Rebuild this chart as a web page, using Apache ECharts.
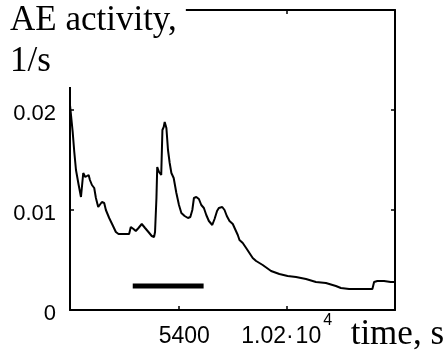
<!DOCTYPE html>
<html>
<head>
<meta charset="utf-8">
<script src="https://cdn.jsdelivr.net/npm/echarts@6/dist/echarts.min.js"></script>
<style>
  html, body { margin: 0; padding: 0; background: #fff; }
  #chart { width: 447px; height: 357px; }
</style>
</head>
<body>
<div id="chart"></div>
<script>
// time, s
const timeS = [
  600, 719, 790, 865, 984, 1086, 1130, 1187, 1276, 1338,
  1426, 1483, 1572, 1673, 1748, 1850, 1938, 2013, 2115, 2190,
  2336, 2486, 2632, 2751, 2928, 3219, 3294, 3414, 3515, 3635,
  3780, 3926, 4076, 4222, 4324, 4368, 4430, 4465, 4545, 4642,
  4695, 4752, 4796, 4871, 4942, 5017, 5092, 5194, 5313, 5428,
  5534, 5680, 5826, 5931, 6020, 6091, 6197, 6311, 6417, 6532,
  6638, 6753, 6903, 7005, 7115, 7195, 7345, 7447, 7548, 7667,
  7813, 7933, 8034, 8109, 8255, 8405, 8696, 8847, 9138, 9509,
  9876, 10243, 10614, 11056, 11497, 11939, 12381, 12602, 12968, 13410,
  13998, 14074, 14218, 14514, 14810, 15000
]
// AE activity, 1/s
const activity = [
  0.0205, 0.0178, 0.0158, 0.0140, 0.0125, 0.0113, 0.0115, 0.0137, 0.0133, 0.0132,
  0.0135, 0.0130, 0.0125, 0.0122, 0.0112, 0.0103, 0.0102, 0.0108, 0.0107, 0.0100,
  0.0092, 0.0085, 0.0078, 0.0076, 0.0076, 0.0076, 0.0083, 0.0081, 0.0079, 0.0082,
  0.0086, 0.0082, 0.0078, 0.0074, 0.0073, 0.0078, 0.0112, 0.0143, 0.0138, 0.0135,
  0.0180, 0.0183, 0.0188, 0.0182, 0.0160, 0.0147, 0.0137, 0.0132, 0.0117, 0.0105,
  0.0097, 0.0094, 0.0092, 0.0093, 0.0100, 0.0112, 0.0113, 0.0111, 0.0105, 0.0102,
  0.0095, 0.0089, 0.0085, 0.0091, 0.0099, 0.0102, 0.0103, 0.0100, 0.0094, 0.0089,
  0.0086, 0.0080, 0.0075, 0.0070, 0.0067, 0.0062, 0.0052, 0.0049, 0.0045, 0.0039,
  0.0036, 0.0034, 0.0033, 0.0031, 0.0028, 0.0027, 0.0024, 0.0022, 0.0021, 0.0021,
  0.0021, 0.0028, 0.0029, 0.0029, 0.0028, 0.0028
]

// horizontal bar marking the interval
const barTimes = [3380, 6520]
const barLevel = 0.0024

// axes
const timeMin = 600
const timeMax = 15000
const timeTicks = [5400, 10200]
const activityMin = 0
const activityMax = 0.03
const activityTicks = [0.01, 0.02]
const activityLabels = [0, 0.01, 0.02]

const chart = echarts.init(document.getElementById('chart'))

const ink = '#000'
const sans = 'Liberation Sans'
const serif = 'Liberation Serif'

const axisLine = { show: true, onZero: false, lineStyle: { color: ink, width: 2 } }
const tick = (values) => ({
  show: true,
  inside: true,
  length: 4,
  customValues: values,
  lineStyle: { color: ink, width: 1.5 },
})

function timeLabel(v) {
  if (v === 10200) return '{b|1.02·\u200a10}{sup|4}'
  return '{first|' + v + '}'
}

const option = {
  animation: false,
  backgroundColor: '#fff',
  title: {
    text: 'AE activity,\n1/s',
    left: 0,
    top: 0,
    backgroundColor: '#fff',
    padding: [0, 9, 5, 10],
    textStyle: {
      fontFamily: serif,
      fontSize: 35,
      fontWeight: 'normal',
      lineHeight: 41,
      color: ink,
    },
  },
  grid: { left: 70, right: 51, top: 10, bottom: 47 },
  xAxis: [
    {
      type: 'value',
      position: 'bottom',
      min: timeMin,
      max: timeMax,
      axisLine,
      axisTick: tick(timeTicks),
      splitLine: { show: false },
      axisLabel: {
        customValues: timeTicks,
        margin: 9,
        formatter: timeLabel,
        rich: {
          first: { fontFamily: sans, fontSize: 23, lineHeight: 23, color: ink, padding: [13, 0, 0, 12] },
          b: { fontFamily: sans, fontSize: 23, lineHeight: 23, color: ink, padding: [13, 0, 0, 0] },
          sup: { fontFamily: sans, fontSize: 16, lineHeight: 16, color: ink, padding: [0, 0, 20, 2] },
        },
      },
      name: 'time, s',
      nameLocation: 'end',
      nameGap: 49,
      nameTextStyle: {
        fontFamily: serif,
        fontSize: 35,
        color: ink,
        align: 'right',
        verticalAlign: 'top',
        lineHeight: 35,
        padding: [7, 0, 0, 0],
      },
    },
    {
      type: 'value',
      position: 'top',
      min: timeMin,
      max: timeMax,
      axisLine,
      axisTick: tick(timeTicks),
      axisLabel: { show: false },
      splitLine: { show: false },
    },
  ],
  yAxis: [
    {
      type: 'value',
      position: 'left',
      min: activityMin,
      max: activityMax,
      axisLine,
      axisTick: tick(activityTicks),
      splitLine: { show: false },
      axisLabel: {
        customValues: activityLabels,
        margin: 14,
        formatter: v => '{v|' + v + '}',
        rich: {
          v: { fontFamily: sans, fontSize: 22, lineHeight: 22, color: ink, padding: [8, 0, 0, 0] },
        },
      },
    },
    {
      type: 'value',
      position: 'right',
      min: activityMin,
      max: activityMax,
      axisLine,
      axisTick: tick(activityTicks),
      axisLabel: { show: false },
      splitLine: { show: false },
    },
  ],
  series: [
    {
      type: 'line',
      data: timeS.map((t, i) => [t, activity[i]]),
      symbol: 'none',
      lineStyle: { color: ink, width: 2 },
    },
    {
      type: 'line',
      data: barTimes.map(t => [t, barLevel]),
      symbol: 'none',
      lineStyle: { color: ink, width: 5 },
    },
  ],
}

chart.setOption(option)
</script>
</body>
</html>
